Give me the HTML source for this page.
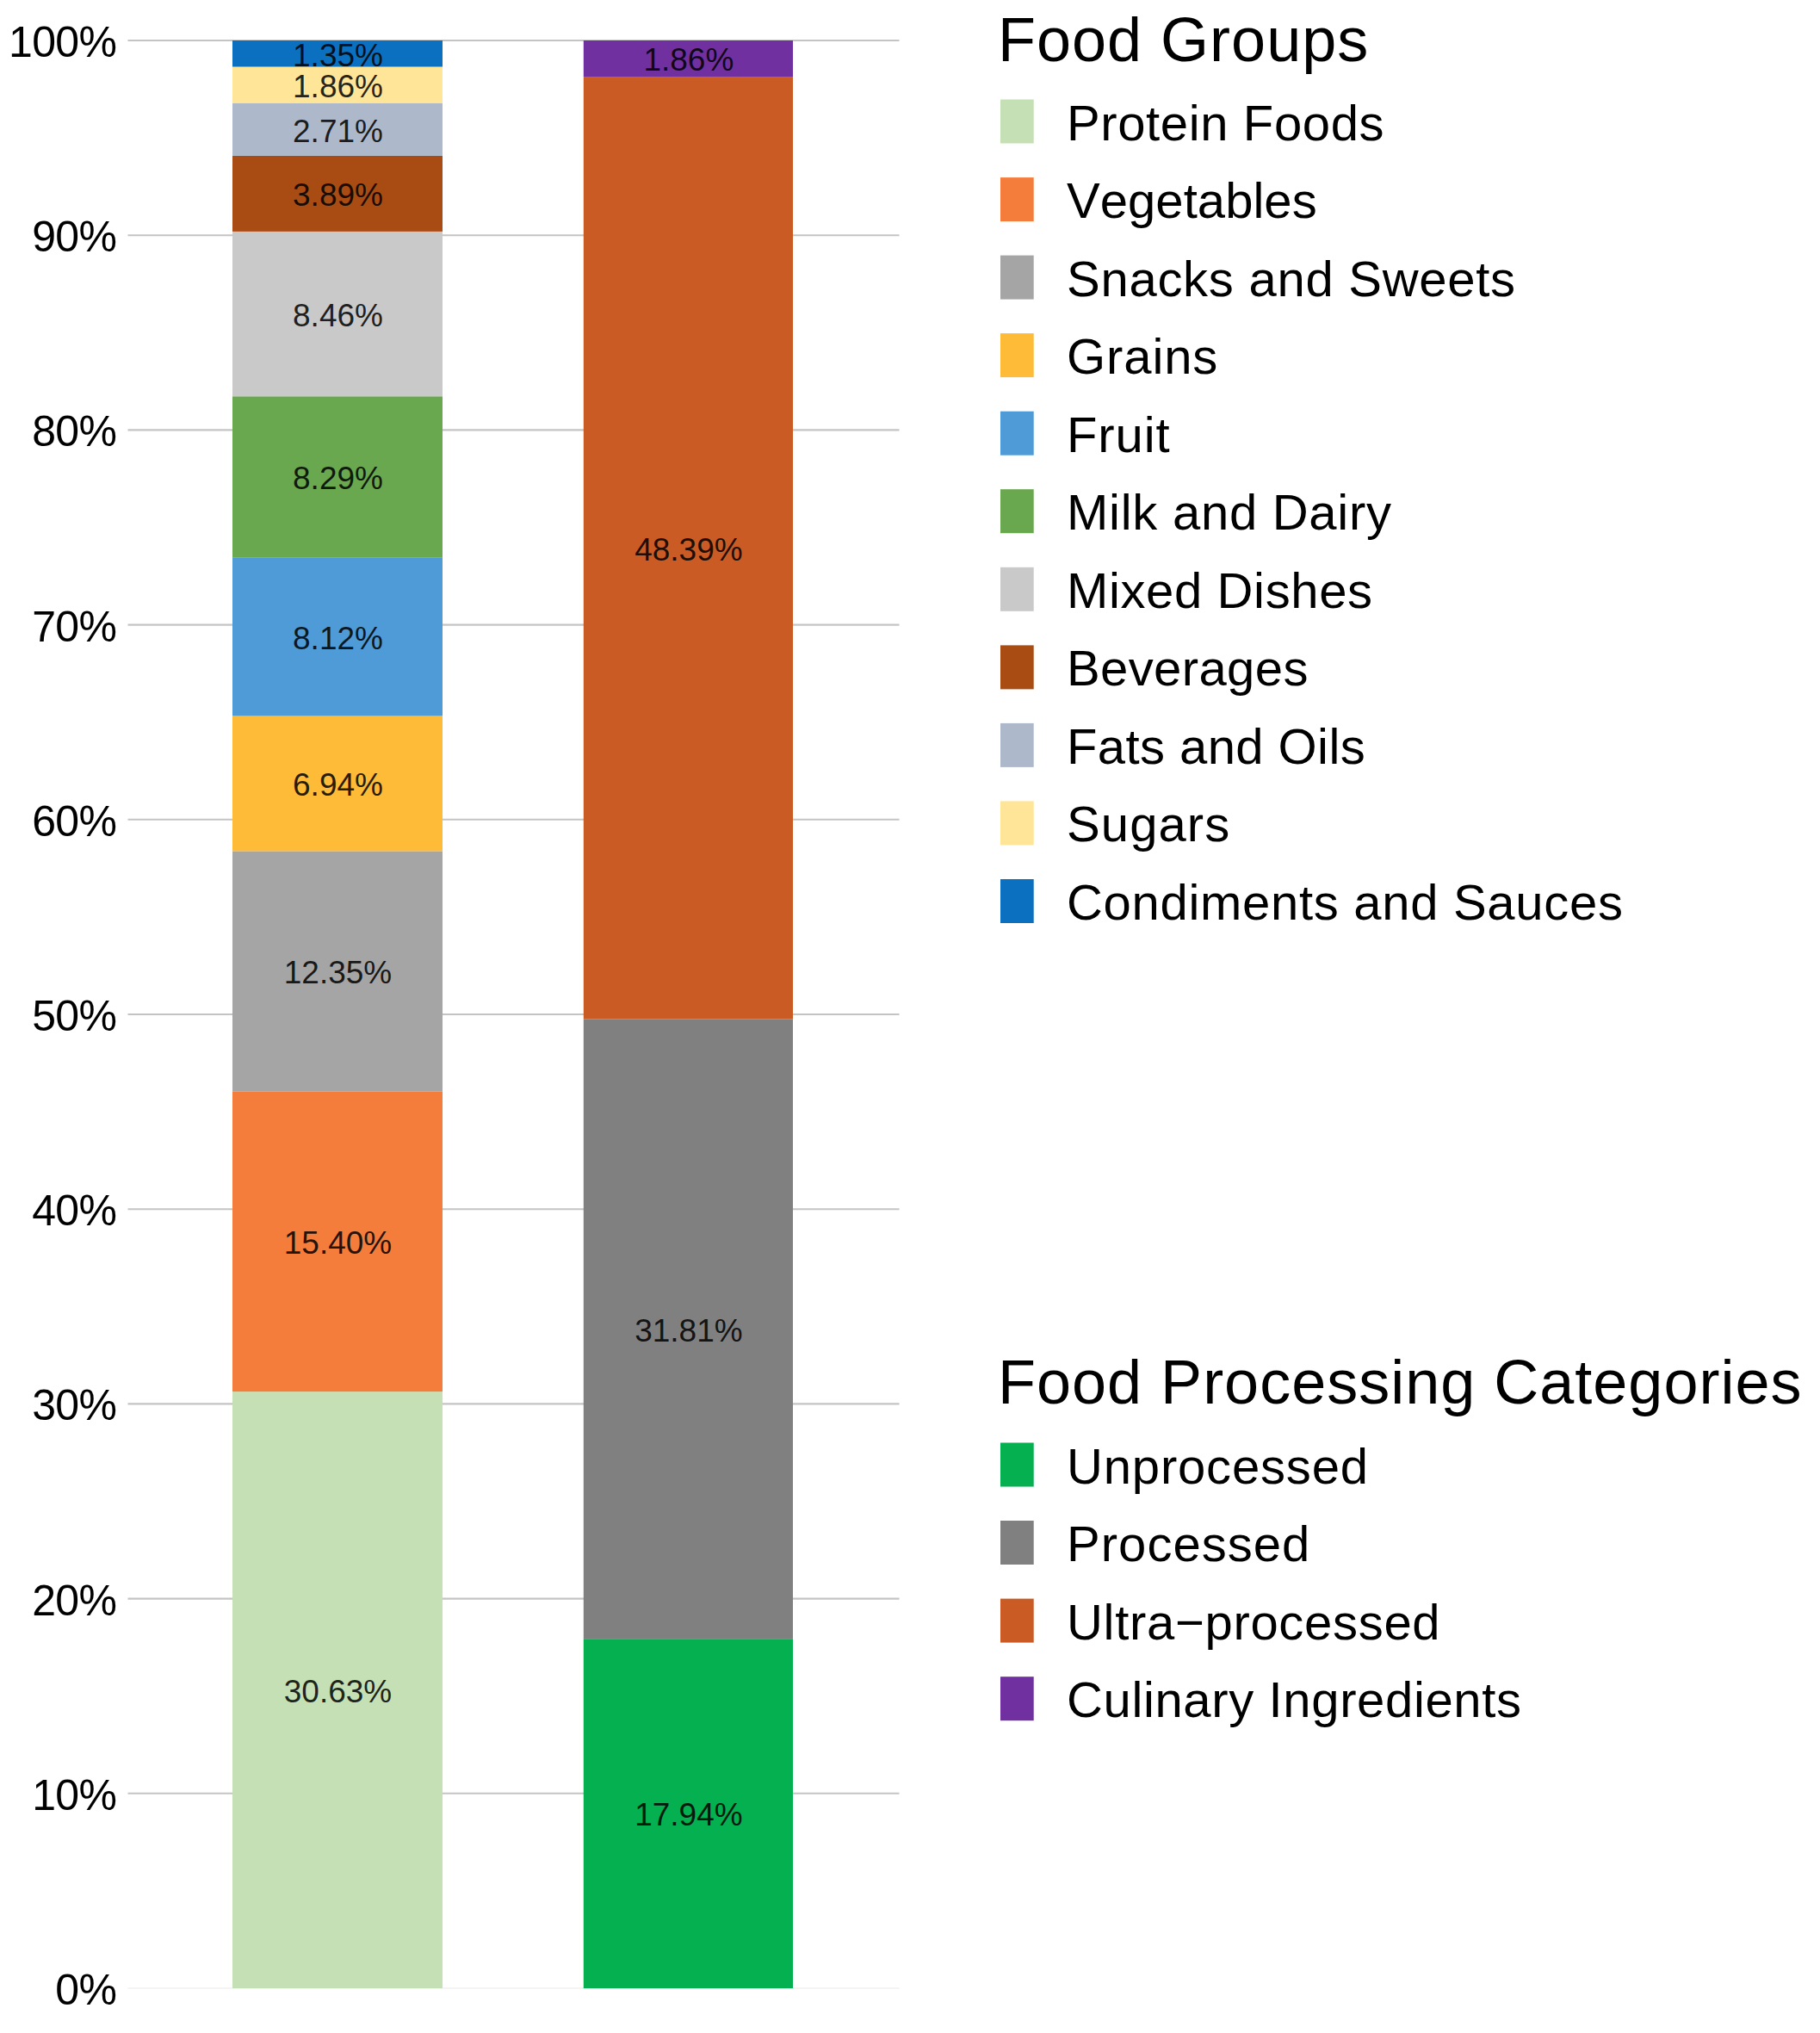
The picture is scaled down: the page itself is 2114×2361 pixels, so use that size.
<!DOCTYPE html>
<html lang="en">
<head>
<meta charset="utf-8">
<title>Food Groups and Food Processing Categories</title>
<style>
html,body{margin:0;padding:0;background:#fff;}
body{width:2114px;height:2361px;overflow:hidden;}
svg{display:block;}
text{font-kerning:none;font-family:"Liberation Sans",sans-serif;fill:#000;}
.ax{font-size:50px;text-anchor:end;letter-spacing:-0.7px;}
.lb{font-size:37px;text-anchor:middle;fill:#000;fill-opacity:0.86;}
.lg{font-size:58px;letter-spacing:0px;}
.tt{font-size:72px;letter-spacing:1px;}
.grid line{stroke:#c4c4c4;stroke-width:2.1;}
</style>
</head>
<body>
<svg width="2114" height="2361" viewBox="0 0 2114 2361">
<rect x="0" y="0" width="2114" height="2361" fill="#ffffff"/>
<g class="grid">
<line x1="148.5" x2="1044.5" y1="2082.8" y2="2082.8"/>
<line x1="148.5" x2="1044.5" y1="1856.6" y2="1856.6"/>
<line x1="148.5" x2="1044.5" y1="1630.4" y2="1630.4"/>
<line x1="148.5" x2="1044.5" y1="1404.2" y2="1404.2"/>
<line x1="148.5" x2="1044.5" y1="1178.0" y2="1178.0"/>
<line x1="148.5" x2="1044.5" y1="951.8" y2="951.8"/>
<line x1="148.5" x2="1044.5" y1="725.6" y2="725.6"/>
<line x1="148.5" x2="1044.5" y1="499.4" y2="499.4"/>
<line x1="148.5" x2="1044.5" y1="273.2" y2="273.2"/>
<line x1="148.5" x2="1044.5" y1="47.0" y2="47.0"/>
<line x1="148.5" x2="1044.5" y1="2309.0" y2="2309.0" style="stroke:#f4f4f4"/>
</g>
<g class="ax">
<text x="135.2" y="2327.9">0%</text>
<text x="135.2" y="2101.7">10%</text>
<text x="135.2" y="1875.5">20%</text>
<text x="135.2" y="1649.3">30%</text>
<text x="135.2" y="1423.1">40%</text>
<text x="135.2" y="1196.9">50%</text>
<text x="135.2" y="970.7">60%</text>
<text x="135.2" y="744.5">70%</text>
<text x="135.2" y="518.3">80%</text>
<text x="135.2" y="292.1">90%</text>
<text x="135.2" y="65.9">100%</text>
</g>
<g><rect x="270.0" y="1616.15" width="244.0" height="692.85" fill="#c5e0b4"/>
<rect x="270.0" y="1267.80" width="244.0" height="348.35" fill="#f47d3c"/>
<rect x="270.0" y="988.44" width="244.0" height="279.36" fill="#a5a5a5"/>
<rect x="270.0" y="831.46" width="244.0" height="156.98" fill="#fdbb38"/>
<rect x="270.0" y="647.79" width="244.0" height="183.67" fill="#4f9bd7"/>
<rect x="270.0" y="460.27" width="244.0" height="187.52" fill="#6aa84f"/>
<rect x="270.0" y="268.90" width="244.0" height="191.37" fill="#c9c9c9"/>
<rect x="270.0" y="180.91" width="244.0" height="87.99" fill="#a84c14"/>
<rect x="270.0" y="119.61" width="244.0" height="61.30" fill="#adb9ca"/>
<rect x="270.0" y="77.54" width="244.0" height="42.07" fill="#ffe598"/>
<rect x="270.0" y="47.00" width="244.0" height="30.54" fill="#0b70c0"/></g>
<g class="lb"><text x="392.5" y="1976.9">30.63%</text>
<text x="392.5" y="1456.3">15.40%</text>
<text x="392.5" y="1142.4">12.35%</text>
<text x="392.5" y="924.3">6.94%</text>
<text x="392.5" y="753.9">8.12%</text>
<text x="392.5" y="568.3">8.29%</text>
<text x="392.5" y="378.9">8.46%</text>
<text x="392.5" y="239.2">3.89%</text>
<text x="392.5" y="164.6">2.71%</text>
<text x="392.5" y="112.9">1.86%</text>
<text x="392.5" y="76.6">1.35%</text></g>
<g><rect x="677.8" y="1903.20" width="243.2" height="405.80" fill="#04b050"/>
<rect x="677.8" y="1183.65" width="243.2" height="719.54" fill="#808080"/>
<rect x="677.8" y="89.07" width="243.2" height="1094.58" fill="#cb5b24"/>
<rect x="677.8" y="47.00" width="243.2" height="42.07" fill="#7030a0"/></g>
<g class="lb"><text x="799.9" y="2120.4">17.94%</text>
<text x="799.9" y="1557.7">31.81%</text>
<text x="799.9" y="650.7">48.39%</text>
<text x="799.9" y="82.3">1.86%</text></g>
<text class="tt" x="1159" y="70.9">Food Groups</text>
<rect x="1162" y="115.5" width="38.7" height="51" fill="#c5e0b4"/>
<text class="lg" x="1239" y="162.5" style="letter-spacing:0.62px">Protein Foods</text>
<rect x="1162" y="206.1" width="38.7" height="51" fill="#f47d3c"/>
<text class="lg" x="1239" y="253.1" style="letter-spacing:0.05px">Vegetables</text>
<rect x="1162" y="296.6" width="38.7" height="51" fill="#a5a5a5"/>
<text class="lg" x="1239" y="343.6" style="letter-spacing:0.73px">Snacks and Sweets</text>
<rect x="1162" y="387.1" width="38.7" height="51" fill="#fdbb38"/>
<text class="lg" x="1239" y="434.1" style="letter-spacing:0.90px">Grains</text>
<rect x="1162" y="477.7" width="38.7" height="51" fill="#4f9bd7"/>
<text class="lg" x="1239" y="524.7" style="letter-spacing:0.88px">Fruit</text>
<rect x="1162" y="568.2" width="38.7" height="51" fill="#6aa84f"/>
<text class="lg" x="1239" y="615.2" style="letter-spacing:0.74px">Milk and Dairy</text>
<rect x="1162" y="658.8" width="38.7" height="51" fill="#c9c9c9"/>
<text class="lg" x="1239" y="705.8" style="letter-spacing:0.63px">Mixed Dishes</text>
<rect x="1162" y="749.4" width="38.7" height="51" fill="#a84c14"/>
<text class="lg" x="1239" y="796.4" style="letter-spacing:0.39px">Beverages</text>
<rect x="1162" y="839.9" width="38.7" height="51" fill="#adb9ca"/>
<text class="lg" x="1239" y="886.9" style="letter-spacing:0.42px">Fats and Oils</text>
<rect x="1162" y="930.4" width="38.7" height="51" fill="#ffe598"/>
<text class="lg" x="1239" y="977.4" style="letter-spacing:1.10px">Sugars</text>
<rect x="1162" y="1021.0" width="38.7" height="51" fill="#0b70c0"/>
<text class="lg" x="1239" y="1068.0" style="letter-spacing:0.70px">Condiments and Sauces</text>
<text class="tt" x="1159" y="1630.2">Food Processing Categories</text>
<rect x="1162" y="1675.5" width="38.7" height="51" fill="#04b050"/>
<text class="lg" x="1239" y="1722.5" style="letter-spacing:0.83px">Unprocessed</text>
<rect x="1162" y="1766.0" width="38.7" height="51" fill="#808080"/>
<text class="lg" x="1239" y="1813.0" style="letter-spacing:1.04px">Processed</text>
<rect x="1162" y="1856.6" width="38.7" height="51" fill="#cb5b24"/>
<text class="lg" x="1239" y="1903.6" style="letter-spacing:0.69px">Ultra−processed</text>
<rect x="1162" y="1947.2" width="38.7" height="51" fill="#7030a0"/>
<text class="lg" x="1239" y="1994.2" style="letter-spacing:0.64px">Culinary Ingredients</text>
</svg>
</body>
</html>
